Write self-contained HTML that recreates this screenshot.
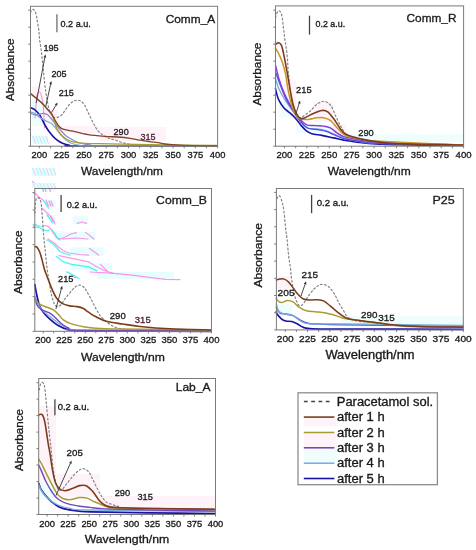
<!DOCTYPE html><html><head><meta charset="utf-8"><style>html,body{margin:0;padding:0;background:#fff;}svg{display:block;filter:blur(0.3px);}</style></head><body>
<svg width="476" height="550" viewBox="0 0 476 550" font-family='"Liberation Sans", sans-serif'>
<rect width="476" height="550" fill="#fff"/>
<rect x="32" y="100" width="16.0" height="26.0" fill="#effdfd"/>
<rect x="42" y="110" width="16.0" height="14.0" fill="#fff3fa"/>
<rect x="56" y="126" width="44.0" height="7.0" fill="#fff3fa"/>
<rect x="100" y="127" width="66.0" height="14.0" fill="#fff3fa"/>
<rect x="32" y="86" width="10.0" height="14.0" fill="#fff3fa"/>
<rect x="273.3" y="40.9" width="5.4" height="10.9" fill="#fff3fa"/>
<rect x="284.2" y="80.2" width="12.0" height="28.4" fill="#fff3fa"/>
<rect x="276" y="79.1" width="3.0" height="12.0" fill="#effdfd"/>
<rect x="313.7" y="102" width="19.6" height="19.7" fill="#fff3fa"/>
<rect x="296.2" y="123.9" width="34.9" height="8.7" fill="#effdfd"/>
<rect x="278.7" y="102" width="15.3" height="15.3" fill="#effdfd"/>
<rect x="330" y="124" width="16.0" height="14.0" fill="#fff3fa"/>
<rect x="346" y="134" width="117.0" height="8.0" fill="#effdfd"/>
<rect x="277" y="276" width="13.0" height="16.0" fill="#fff3fa"/>
<rect x="340" y="316" width="123.0" height="9.0" fill="#effdfd"/>
<rect x="277" y="304" width="15.0" height="12.0" fill="#effdfd"/>
<rect x="39.5" y="406" width="16.5" height="76.0" fill="#fff3fa"/>
<rect x="39.5" y="482" width="18.5" height="18.0" fill="#effdfd"/>
<rect x="56" y="474" width="44.0" height="23.0" fill="#fff3fa"/>
<rect x="100" y="496" width="115.0" height="12.0" fill="#fff3fa"/>
<rect x="304" y="418.5" width="33.0" height="7.5" fill="#fff3fa"/>
<rect x="304" y="434" width="33.0" height="14.0" fill="#fff3fa"/>
<rect x="304" y="449" width="33.0" height="13.0" fill="#effdfd"/>
<rect x="42.0" y="186.0" width="14.0" height="5.5" fill="#e6fefe" opacity="1"/>
<rect x="44.8" y="199.6" width="10.9" height="9.1" fill="#e6fefe" opacity="1"/>
<rect x="51.0" y="215.0" width="5.0" height="8.0" fill="#e6fefe" opacity="1"/>
<rect x="55.0" y="231.0" width="11.0" height="9.0" fill="#e6fefe" opacity="1"/>
<rect x="72.7" y="216.3" width="15.1" height="7.6" fill="#e6fefe" opacity="1"/>
<rect x="56.3" y="232.1" width="39.1" height="7.6" fill="#e6fefe" opacity="1"/>
<rect x="70.1" y="247.5" width="33.6" height="8.4" fill="#e6fefe" opacity="1"/>
<rect x="71.8" y="263.2" width="40.3" height="7.0" fill="#e6fefe" opacity="1"/>
<rect x="97.0" y="271.9" width="77.0" height="6.9" fill="#e6fefe" opacity="1"/>
<rect x="33.5" y="223.5" width="7.5" height="5.0" fill="#e6fefe" opacity="1"/>
<path d="M33.0,192.5 L36.0,194.0 L40.0,198.0 L42.5,199.5" fill="none" stroke="#ff7ae0" stroke-width="1.2" stroke-linejoin="round" stroke-linecap="round" opacity="0.8"/>
<path d="M43.9,186.0 L46.0,191.5" fill="none" stroke="#ff7ae0" stroke-width="1.2" stroke-linejoin="round" stroke-linecap="round" opacity="0.8"/>
<path d="M48.9,186.0 L50.5,191.5" fill="none" stroke="#ff7ae0" stroke-width="1.2" stroke-linejoin="round" stroke-linecap="round" opacity="0.8"/>
<path d="M46.0,200.0 L48.5,206.0" fill="none" stroke="#ff7ae0" stroke-width="1.2" stroke-linejoin="round" stroke-linecap="round" opacity="0.8"/>
<path d="M49.0,201.0 L51.0,206.5" fill="none" stroke="#ff7ae0" stroke-width="1.2" stroke-linejoin="round" stroke-linecap="round" opacity="0.8"/>
<path d="M51.0,201.0 L53.0,206.0" fill="none" stroke="#ff7ae0" stroke-width="1.2" stroke-linejoin="round" stroke-linecap="round" opacity="0.8"/>
<path d="M42.0,208.0 L46.0,212.0 L50.0,216.0 L53.5,222.0 L55.0,224.0" fill="none" stroke="#ff7ae0" stroke-width="1.2" stroke-linejoin="round" stroke-linecap="round" opacity="0.8"/>
<path d="M51.0,216.0 L54.5,222.0" fill="none" stroke="#ff7ae0" stroke-width="1.2" stroke-linejoin="round" stroke-linecap="round" opacity="0.8"/>
<path d="M33.5,227.0 L39.0,227.5" fill="none" stroke="#ff7ae0" stroke-width="1.2" stroke-linejoin="round" stroke-linecap="round" opacity="0.8"/>
<path d="M42.0,226.5 L46.0,225.5 L49.0,227.0 L51.5,230.0 L54.0,234.0 L56.0,237.0 L59.0,239.0 L63.0,238.0 L66.0,236.5 L71.0,234.0 L76.5,232.7" fill="none" stroke="#ff7ae0" stroke-width="1.2" stroke-linejoin="round" stroke-linecap="round" opacity="0.8"/>
<path d="M77.1,223.3 L82.2,222.0 L86.6,223.3" fill="none" stroke="#ff7ae0" stroke-width="1.2" stroke-linejoin="round" stroke-linecap="round" opacity="0.8"/>
<path d="M62.6,239.0 L75.2,238.0 L87.8,239.0" fill="none" stroke="#ff7ae0" stroke-width="1.2" stroke-linejoin="round" stroke-linecap="round" opacity="0.8"/>
<path d="M85.3,232.1 L94.1,239.0" fill="none" stroke="#ff7ae0" stroke-width="1.2" stroke-linejoin="round" stroke-linecap="round" opacity="0.8"/>
<path d="M48.0,239.0 L53.0,242.0 L58.0,246.5 L63.0,250.5 L69.0,253.0 L80.0,254.5 L88.5,255.2" fill="none" stroke="#ff7ae0" stroke-width="1.2" stroke-linejoin="round" stroke-linecap="round" opacity="0.8"/>
<path d="M89.5,248.4 L98.7,255.1" fill="none" stroke="#ff7ae0" stroke-width="1.2" stroke-linejoin="round" stroke-linecap="round" opacity="0.8"/>
<path d="M59.0,255.7 L72.0,258.4 L88.6,261.8 L95.3,266.0 L103.7,270.2 L113.0,273.4" fill="none" stroke="#ff7ae0" stroke-width="1.2" stroke-linejoin="round" stroke-linecap="round" opacity="0.8"/>
<path d="M100.4,264.3 L107.1,271.0" fill="none" stroke="#ff7ae0" stroke-width="1.2" stroke-linejoin="round" stroke-linecap="round" opacity="0.8"/>
<path d="M90.0,272.0 L111.0,273.1 L132.0,275.2 L153.0,277.9 L165.6,279.4 L180.0,279.6" fill="none" stroke="#ff7ae0" stroke-width="1.2" stroke-linejoin="round" stroke-linecap="round" opacity="0.8"/>
<path d="M71.8,276.1 L76.0,278.0" fill="none" stroke="#ff7ae0" stroke-width="1.2" stroke-linejoin="round" stroke-linecap="round" opacity="0.8"/>
<path d="M32.5,181.4 L36.0,184.5" fill="none" stroke="#ff7ae0" stroke-width="1.2" stroke-linejoin="round" stroke-linecap="round" opacity="0.8"/>
<path d="M42.0,186.0 L43.5,191.5" fill="none" stroke="#2ef0f0" stroke-width="1.3" stroke-linejoin="round" stroke-linecap="round" opacity="0.85"/>
<path d="M43.0,200.0 L46.0,204.0 L48.5,208.0" fill="none" stroke="#2ef0f0" stroke-width="1.3" stroke-linejoin="round" stroke-linecap="round" opacity="0.85"/>
<path d="M47.0,215.0 L50.0,219.0 L52.5,223.0" fill="none" stroke="#2ef0f0" stroke-width="1.3" stroke-linejoin="round" stroke-linecap="round" opacity="0.85"/>
<path d="M33.0,225.0 L36.0,225.0 L40.0,226.5" fill="none" stroke="#2ef0f0" stroke-width="1.3" stroke-linejoin="round" stroke-linecap="round" opacity="0.85"/>
<path d="M40.0,228.0 L44.0,230.0 L47.0,231.0 L49.0,230.0" fill="none" stroke="#2ef0f0" stroke-width="1.3" stroke-linejoin="round" stroke-linecap="round" opacity="0.85"/>
<path d="M52.0,230.0 L55.0,234.0 L57.5,238.0 L60.0,240.0" fill="none" stroke="#2ef0f0" stroke-width="1.3" stroke-linejoin="round" stroke-linecap="round" opacity="0.85"/>
<path d="M47.0,240.0 L52.0,243.0 L56.0,247.0 L60.0,251.5 L66.0,254.0 L70.0,255.2" fill="none" stroke="#2ef0f0" stroke-width="1.3" stroke-linejoin="round" stroke-linecap="round" opacity="0.85"/>
<path d="M56.5,256.6 L63.4,261.8 L71.8,264.3 L88.6,266.8 L96.9,270.9" fill="none" stroke="#2ef0f0" stroke-width="1.3" stroke-linejoin="round" stroke-linecap="round" opacity="0.85"/>
<path d="M66.8,271.9 L73.5,275.3 L79.0,278.5" fill="none" stroke="#2ef0f0" stroke-width="1.3" stroke-linejoin="round" stroke-linecap="round" opacity="0.85"/>
<rect x="32.0" y="135.7" width="16.3" height="8.2" fill="#e6fefe" opacity="1"/>
<path d="M33.0,136.2 L35.5,143.4" fill="none" stroke="#ff7ae0" stroke-width="0.9" stroke-linejoin="round" stroke-linecap="round" opacity="0.45"/>
<path d="M36.2,136.2 L38.7,143.4" fill="none" stroke="#2ef0f0" stroke-width="0.9" stroke-linejoin="round" stroke-linecap="round" opacity="0.45"/>
<path d="M39.5,136.2 L42.0,143.4" fill="none" stroke="#ff7ae0" stroke-width="0.9" stroke-linejoin="round" stroke-linecap="round" opacity="0.45"/>
<path d="M42.8,136.2 L45.3,143.4" fill="none" stroke="#2ef0f0" stroke-width="0.9" stroke-linejoin="round" stroke-linecap="round" opacity="0.45"/>
<path d="M46.0,136.2 L48.5,143.4" fill="none" stroke="#ff7ae0" stroke-width="0.9" stroke-linejoin="round" stroke-linecap="round" opacity="0.45"/>
<rect x="31.8" y="167.8" width="23.8" height="8.0" fill="#e6fefe" opacity="1"/>
<path d="M32.8,168.3 L35.3,175.3" fill="none" stroke="#ff7ae0" stroke-width="0.9" stroke-linejoin="round" stroke-linecap="round" opacity="0.45"/>
<path d="M36.2,168.3 L38.7,175.3" fill="none" stroke="#2ef0f0" stroke-width="0.9" stroke-linejoin="round" stroke-linecap="round" opacity="0.45"/>
<path d="M39.6,168.3 L42.1,175.3" fill="none" stroke="#ff7ae0" stroke-width="0.9" stroke-linejoin="round" stroke-linecap="round" opacity="0.45"/>
<path d="M43.0,168.3 L45.5,175.3" fill="none" stroke="#2ef0f0" stroke-width="0.9" stroke-linejoin="round" stroke-linecap="round" opacity="0.45"/>
<path d="M46.4,168.3 L48.9,175.3" fill="none" stroke="#ff7ae0" stroke-width="0.9" stroke-linejoin="round" stroke-linecap="round" opacity="0.45"/>
<path d="M49.8,168.3 L52.3,175.3" fill="none" stroke="#2ef0f0" stroke-width="0.9" stroke-linejoin="round" stroke-linecap="round" opacity="0.45"/>
<path d="M53.2,168.3 L55.7,175.3" fill="none" stroke="#ff7ae0" stroke-width="0.9" stroke-linejoin="round" stroke-linecap="round" opacity="0.45"/>
<rect x="31.8" y="183.0" width="23.8" height="5.0" fill="#e6fefe" opacity="1"/>
<path d="M32.8,183.5 L35.3,187.5" fill="none" stroke="#ff7ae0" stroke-width="0.9" stroke-linejoin="round" stroke-linecap="round" opacity="0.45"/>
<path d="M36.2,183.5 L38.7,187.5" fill="none" stroke="#2ef0f0" stroke-width="0.9" stroke-linejoin="round" stroke-linecap="round" opacity="0.45"/>
<path d="M39.6,183.5 L42.1,187.5" fill="none" stroke="#ff7ae0" stroke-width="0.9" stroke-linejoin="round" stroke-linecap="round" opacity="0.45"/>
<path d="M43.0,183.5 L45.5,187.5" fill="none" stroke="#2ef0f0" stroke-width="0.9" stroke-linejoin="round" stroke-linecap="round" opacity="0.45"/>
<path d="M46.4,183.5 L48.9,187.5" fill="none" stroke="#ff7ae0" stroke-width="0.9" stroke-linejoin="round" stroke-linecap="round" opacity="0.45"/>
<path d="M49.8,183.5 L52.3,187.5" fill="none" stroke="#2ef0f0" stroke-width="0.9" stroke-linejoin="round" stroke-linecap="round" opacity="0.45"/>
<path d="M53.2,183.5 L55.7,187.5" fill="none" stroke="#ff7ae0" stroke-width="0.9" stroke-linejoin="round" stroke-linecap="round" opacity="0.45"/>
<path d="M35.00,118.00 C35.10,117.12 35.33,116.20 35.60,112.70 C35.87,109.20 36.07,100.52 36.60,97.00 C37.13,93.48 38.03,91.93 38.80,91.60 C39.57,91.27 40.47,92.77 41.20,95.00 C41.93,97.23 42.73,101.17 43.20,105.00 C43.67,108.83 43.78,114.17 44.00,118.00 C44.22,121.83 44.42,126.33 44.50,128.00" fill="none" stroke="#f070c8" stroke-width="1.0" stroke-linejoin="round" stroke-linecap="round" opacity="0.8"/>
<path d="M30.50,12.60 C30.68,12.20 31.18,10.73 31.60,10.20 C32.02,9.67 32.55,9.40 33.00,9.40 C33.45,9.40 33.92,9.80 34.30,10.20 C34.68,10.60 34.92,10.77 35.30,11.80 C35.68,12.83 36.27,14.85 36.60,16.40 C36.93,17.95 36.93,18.80 37.30,21.10 C37.67,23.40 38.42,27.12 38.80,30.20 C39.18,33.28 39.20,36.30 39.60,39.60 C40.00,42.90 40.75,46.60 41.20,50.00 C41.65,53.40 41.92,56.50 42.30,60.00 C42.68,63.50 43.13,67.33 43.50,71.00 C43.87,74.67 44.12,78.50 44.50,82.00 C44.88,85.50 45.37,89.00 45.80,92.00 C46.23,95.00 46.57,97.17 47.10,100.00 C47.63,102.83 48.27,106.58 49.00,109.00 C49.73,111.42 50.67,113.12 51.50,114.50 C52.33,115.88 53.08,116.80 54.00,117.30 C54.92,117.80 55.73,117.88 57.00,117.50 C58.27,117.12 60.27,116.17 61.60,115.00 C62.93,113.83 63.77,112.17 65.00,110.50 C66.23,108.83 67.67,106.50 69.00,105.00 C70.33,103.50 71.70,102.30 73.00,101.50 C74.30,100.70 75.55,100.28 76.80,100.20 C78.05,100.12 79.22,100.20 80.50,101.00 C81.78,101.80 83.18,103.00 84.50,105.00 C85.82,107.00 87.15,110.42 88.40,113.00 C89.65,115.58 90.78,118.08 92.00,120.50 C93.22,122.92 94.53,125.62 95.70,127.50 C96.87,129.38 97.57,130.38 99.00,131.80 C100.43,133.22 102.63,134.92 104.30,136.00 C105.97,137.08 107.30,137.67 109.00,138.30 C110.70,138.93 112.33,139.10 114.50,139.80 C116.67,140.50 119.42,141.75 122.00,142.50 C124.58,143.25 127.00,143.80 130.00,144.30 C133.00,144.80 136.67,145.22 140.00,145.50 C143.33,145.78 148.33,145.92 150.00,146.00" fill="none" stroke="#858585" stroke-width="1.2" stroke-linejoin="round" stroke-linecap="round" stroke-dasharray="1.7,2.4" opacity="1"/>
<path d="M30.50,107.70 C31.18,108.02 33.20,108.55 34.60,109.60 C36.00,110.65 37.63,112.35 38.90,114.00 C40.17,115.65 41.10,117.50 42.20,119.50 C43.30,121.50 44.23,123.82 45.50,126.00 C46.77,128.18 48.17,130.48 49.80,132.60 C51.43,134.72 53.28,136.95 55.30,138.70 C57.32,140.45 59.53,142.00 61.90,143.10 C64.27,144.20 66.82,144.82 69.50,145.30 C72.18,145.78 53.42,145.88 78.00,146.00 C102.58,146.12 193.83,146.00 217.00,146.00" fill="none" stroke="#1c10a8" stroke-width="1.6" stroke-linejoin="round" stroke-linecap="round" opacity="1"/>
<path d="M30.50,112.00 C31.08,112.17 32.60,112.17 34.00,113.00 C35.40,113.83 36.98,115.73 38.90,117.00 C40.82,118.27 43.32,119.43 45.50,120.60 C47.68,121.77 50.18,122.55 52.00,124.00 C53.82,125.45 54.90,127.47 56.40,129.30 C57.90,131.13 59.40,133.22 61.00,135.00 C62.60,136.78 64.17,138.58 66.00,140.00 C67.83,141.42 69.67,142.62 72.00,143.50 C74.33,144.38 76.17,144.88 80.00,145.30 C83.83,145.72 72.17,145.88 95.00,146.00 C117.83,146.12 196.67,146.00 217.00,146.00" fill="none" stroke="#78b0e2" stroke-width="1.3" stroke-linejoin="round" stroke-linecap="round" opacity="1"/>
<path d="M30.50,113.10 C31.18,113.38 33.27,114.55 34.60,114.80 C35.93,115.05 37.35,114.80 38.50,114.60 C39.65,114.40 40.52,113.78 41.50,113.60 C42.48,113.42 43.37,113.30 44.40,113.50 C45.43,113.70 46.43,113.80 47.70,114.80 C48.97,115.80 50.55,117.80 52.00,119.50 C53.45,121.20 54.93,123.17 56.40,125.00 C57.87,126.83 59.17,128.67 60.80,130.50 C62.43,132.33 64.17,134.42 66.20,136.00 C68.23,137.58 70.70,138.83 73.00,140.00 C75.30,141.17 77.17,142.17 80.00,143.00 C82.83,143.83 85.83,144.53 90.00,145.00 C94.17,145.47 83.83,145.63 105.00,145.80 C126.17,145.97 198.33,145.97 217.00,146.00" fill="none" stroke="#8c88c8" stroke-width="1.3" stroke-linejoin="round" stroke-linecap="round" opacity="1"/>
<path d="M30.50,93.80 C31.53,94.62 34.75,97.07 36.70,98.70 C38.65,100.33 40.47,101.88 42.20,103.60 C43.93,105.32 45.55,107.18 47.10,109.00 C48.65,110.82 50.35,112.75 51.50,114.50 C52.65,116.25 53.18,117.33 54.00,119.50 C54.82,121.67 55.27,125.00 56.40,127.50 C57.53,130.00 59.17,132.58 60.80,134.50 C62.43,136.42 64.17,137.78 66.20,139.00 C68.23,140.22 69.87,141.08 73.00,141.80 C76.13,142.52 78.83,142.97 85.00,143.30 C91.17,143.63 99.17,143.58 110.00,143.80 C120.83,144.02 132.17,144.32 150.00,144.60 C167.83,144.88 205.83,145.35 217.00,145.50" fill="none" stroke="#a99c30" stroke-width="1.3" stroke-linejoin="round" stroke-linecap="round" opacity="1"/>
<path d="M30.50,93.30 C31.53,94.15 34.75,96.73 36.70,98.40 C38.65,100.07 40.47,101.57 42.20,103.30 C43.93,105.03 45.55,107.07 47.10,108.80 C48.65,110.53 50.13,111.75 51.50,113.70 C52.87,115.65 54.12,118.48 55.30,120.50 C56.48,122.52 57.32,124.35 58.60,125.80 C59.88,127.25 60.60,128.30 63.00,129.20 C65.40,130.10 68.83,130.30 73.00,131.20 C77.17,132.10 82.67,133.73 88.00,134.60 C93.33,135.47 100.07,136.00 105.00,136.40 C109.93,136.80 113.40,136.68 117.60,137.00 C121.80,137.32 126.42,137.77 130.20,138.30 C133.98,138.83 137.15,139.63 140.30,140.20 C143.45,140.77 146.15,141.28 149.10,141.70 C152.05,142.12 155.35,142.32 158.00,142.70 C160.65,143.08 161.23,143.58 165.00,144.00 C168.77,144.42 174.77,144.90 180.60,145.20 C186.43,145.50 193.93,145.67 200.00,145.80 C206.07,145.93 214.17,145.97 217.00,146.00" fill="none" stroke="#84442a" stroke-width="1.3" stroke-linejoin="round" stroke-linecap="round" opacity="1"/>
<line x1="36.2" y1="103" x2="44.81" y2="57.44" stroke="#333" stroke-width="0.9"/>
<polygon points="45.40,54.30 46.18,57.70 43.43,57.18" fill="#333"/>
<line x1="45.8" y1="106.2" x2="50.62" y2="84.13" stroke="#333" stroke-width="0.9"/>
<polygon points="51.30,81.00 51.99,84.42 49.25,83.83" fill="#333"/>
<line x1="51.5" y1="112.6" x2="55.96" y2="105.15" stroke="#333" stroke-width="0.9"/>
<polygon points="57.60,102.40 57.16,105.86 54.76,104.43" fill="#333"/>
<text x="43.4" y="51.2" font-size="9.4" text-anchor="start" fill="#1a1a1a" stroke="#1a1a1a" stroke-width="0.32" textLength="15.3" lengthAdjust="spacingAndGlyphs">195</text>
<text x="51.5" y="76.7" font-size="9.4" text-anchor="start" fill="#1a1a1a" stroke="#1a1a1a" stroke-width="0.32" textLength="15.1" lengthAdjust="spacingAndGlyphs">205</text>
<text x="58.7" y="96.0" font-size="9.4" text-anchor="start" fill="#1a1a1a" stroke="#1a1a1a" stroke-width="0.32" textLength="15.2" lengthAdjust="spacingAndGlyphs">215</text>
<text x="113.6" y="134.5" font-size="9.4" text-anchor="start" fill="#1a1a1a" stroke="#1a1a1a" stroke-width="0.32" textLength="15.1" lengthAdjust="spacingAndGlyphs">290</text>
<text x="140.4" y="139.5" font-size="9.4" text-anchor="start" fill="#4a2535" stroke="#4a2535" stroke-width="0.32" textLength="15.0" lengthAdjust="spacingAndGlyphs">315</text>
<path d="M275.60,17.50 C275.75,16.92 276.10,15.05 276.50,14.00 C276.90,12.95 277.50,11.72 278.00,11.20 C278.50,10.68 278.98,10.58 279.50,10.90 C280.02,11.22 280.65,12.00 281.10,13.10 C281.55,14.20 281.92,15.98 282.20,17.50 C282.48,19.02 282.62,20.63 282.80,22.20 C282.98,23.77 283.10,25.32 283.30,26.90 C283.50,28.48 283.82,30.18 284.00,31.70 C284.18,33.22 284.22,34.43 284.40,36.00 C284.58,37.57 284.82,39.27 285.10,41.10 C285.38,42.93 285.72,44.12 286.10,47.00 C286.48,49.88 287.05,54.40 287.40,58.40 C287.75,62.40 287.77,66.07 288.20,71.00 C288.63,75.93 289.37,82.67 290.00,88.00 C290.63,93.33 291.25,98.83 292.00,103.00 C292.75,107.17 293.58,110.58 294.50,113.00 C295.42,115.42 296.42,116.75 297.50,117.50 C298.58,118.25 299.75,117.92 301.00,117.50 C302.25,117.08 303.48,116.05 305.00,115.00 C306.52,113.95 308.13,112.98 310.10,111.20 C312.07,109.42 314.42,105.95 316.80,104.30 C319.18,102.65 322.02,101.02 324.40,101.30 C326.78,101.58 329.15,103.40 331.10,106.00 C333.05,108.60 334.42,113.40 336.10,116.90 C337.78,120.40 339.52,124.07 341.20,127.00 C342.88,129.93 344.38,132.60 346.20,134.50 C348.02,136.40 349.80,137.32 352.10,138.40 C354.40,139.48 356.18,140.23 360.00,141.00 C363.82,141.77 368.33,142.42 375.00,143.00 C381.67,143.58 385.33,144.08 400.00,144.50 C414.67,144.92 452.50,145.33 463.00,145.50" fill="none" stroke="#858585" stroke-width="1.2" stroke-linejoin="round" stroke-linecap="round" stroke-dasharray="1.7,2.4" opacity="1"/>
<path d="M275.50,88.60 C275.67,89.35 275.90,91.08 276.50,93.10 C277.10,95.12 277.82,98.17 279.10,100.70 C280.38,103.23 282.30,106.18 284.20,108.30 C286.10,110.42 288.60,111.70 290.50,113.40 C292.40,115.10 293.90,116.58 295.60,118.50 C297.30,120.42 299.00,122.93 300.70,124.90 C302.40,126.87 303.95,128.83 305.80,130.30 C307.65,131.77 309.13,132.85 311.80,133.70 C314.47,134.55 318.17,134.70 321.80,135.40 C325.43,136.10 329.95,137.12 333.60,137.90 C337.25,138.68 339.78,139.40 343.70,140.10 C347.62,140.80 351.05,141.43 357.10,142.10 C363.15,142.77 372.85,143.65 380.00,144.10 C387.15,144.55 386.17,144.58 400.00,144.80 C413.83,145.02 452.50,145.30 463.00,145.40" fill="none" stroke="#1c10a8" stroke-width="1.6" stroke-linejoin="round" stroke-linecap="round" opacity="1"/>
<path d="M275.50,79.10 C276.10,80.80 277.43,85.70 279.10,89.30 C280.77,92.90 283.38,97.32 285.50,100.70 C287.62,104.08 289.90,106.83 291.80,109.60 C293.70,112.37 295.45,115.23 296.90,117.30 C298.35,119.37 298.58,120.17 300.50,122.00 C302.42,123.83 305.68,127.13 308.40,128.30 C311.12,129.47 314.00,128.67 316.80,129.00 C319.60,129.33 322.40,129.47 325.20,130.30 C328.00,131.13 330.52,132.73 333.60,134.00 C336.68,135.27 339.30,136.65 343.70,137.90 C348.10,139.15 353.95,140.58 360.00,141.50 C366.05,142.42 362.83,142.82 380.00,143.40 C397.17,143.98 449.17,144.73 463.00,145.00" fill="none" stroke="#78b0e2" stroke-width="1.4" stroke-linejoin="round" stroke-linecap="round" opacity="1"/>
<path d="M275.50,72.00 C276.10,73.67 277.65,78.17 279.10,82.00 C280.55,85.83 282.50,91.17 284.20,95.00 C285.90,98.83 287.60,102.08 289.30,105.00 C291.00,107.92 292.62,109.92 294.40,112.50 C296.18,115.08 297.95,117.95 300.00,120.50 C302.05,123.05 303.90,126.30 306.70,127.80 C309.50,129.30 313.43,128.85 316.80,129.50 C320.17,130.15 324.10,130.87 326.90,131.70 C329.70,132.53 330.80,133.33 333.60,134.50 C336.40,135.67 339.30,137.53 343.70,138.70 C348.10,139.87 353.95,140.68 360.00,141.50 C366.05,142.32 362.83,143.02 380.00,143.60 C397.17,144.18 449.17,144.77 463.00,145.00" fill="none" stroke="#5050e0" stroke-width="1.3" stroke-linejoin="round" stroke-linecap="round" opacity="1"/>
<path d="M275.50,65.10 C276.10,67.43 277.65,74.43 279.10,79.10 C280.55,83.77 282.50,89.07 284.20,93.10 C285.90,97.13 287.60,100.33 289.30,103.30 C291.00,106.27 292.72,108.37 294.40,110.90 C296.08,113.43 297.35,116.18 299.40,118.50 C301.45,120.82 304.08,123.62 306.70,124.80 C309.32,125.98 312.30,125.38 315.10,125.60 C317.90,125.82 320.97,125.73 323.50,126.10 C326.03,126.47 328.05,126.67 330.30,127.80 C332.55,128.93 334.77,131.42 337.00,132.90 C339.23,134.38 340.90,135.73 343.70,136.70 C346.50,137.67 347.75,137.75 353.80,138.70 C359.85,139.65 361.80,141.35 380.00,142.40 C398.20,143.45 449.17,144.57 463.00,145.00" fill="none" stroke="#8a3ad8" stroke-width="1.4" stroke-linejoin="round" stroke-linecap="round" opacity="1"/>
<path d="M275.50,48.30 C276.10,49.35 277.97,52.27 279.10,54.60 C280.23,56.93 281.23,59.12 282.30,62.30 C283.37,65.48 284.55,69.20 285.50,73.70 C286.45,78.20 286.95,83.95 288.00,89.30 C289.05,94.65 290.53,101.57 291.80,105.80 C293.07,110.03 294.23,112.52 295.60,114.70 C296.97,116.88 297.87,118.12 300.00,118.90 C302.13,119.68 305.60,119.60 308.40,119.40 C311.20,119.20 314.28,117.98 316.80,117.70 C319.32,117.42 321.25,117.27 323.50,117.70 C325.75,118.13 328.05,118.62 330.30,120.30 C332.55,121.98 334.77,125.43 337.00,127.80 C339.23,130.17 341.47,132.95 343.70,134.50 C345.93,136.05 346.85,136.22 350.40,137.10 C353.95,137.98 360.07,139.10 365.00,139.80 C369.93,140.50 363.67,140.43 380.00,141.30 C396.33,142.17 449.17,144.38 463.00,145.00" fill="none" stroke="#c8962a" stroke-width="1.5" stroke-linejoin="round" stroke-linecap="round" opacity="1"/>
<path d="M275.50,44.40 C275.78,44.20 276.60,43.45 277.20,43.20 C277.80,42.95 278.37,42.48 279.10,42.90 C279.83,43.32 280.87,43.97 281.60,45.70 C282.33,47.43 282.85,50.33 283.50,53.30 C284.15,56.27 284.85,60.10 285.50,63.50 C286.15,66.90 286.90,70.95 287.40,73.70 C287.90,76.45 287.98,76.98 288.50,80.00 C289.02,83.02 289.73,87.72 290.50,91.80 C291.27,95.88 292.13,100.90 293.10,104.50 C294.07,108.10 295.10,111.08 296.30,113.40 C297.50,115.72 298.85,117.68 300.30,118.40 C301.75,119.12 302.82,118.52 305.00,117.70 C307.18,116.88 310.60,114.70 313.40,113.50 C316.20,112.30 319.42,110.78 321.80,110.50 C324.18,110.22 325.73,110.45 327.70,111.80 C329.67,113.15 331.50,115.78 333.60,118.60 C335.70,121.42 338.33,126.13 340.30,128.70 C342.27,131.27 343.15,132.60 345.40,134.00 C347.65,135.40 350.72,136.17 353.80,137.10 C356.88,138.03 359.53,138.77 363.90,139.60 C368.27,140.43 373.98,141.40 380.00,142.10 C386.02,142.80 386.17,143.32 400.00,143.80 C413.83,144.28 452.50,144.80 463.00,145.00" fill="none" stroke="#7e3c1a" stroke-width="1.6" stroke-linejoin="round" stroke-linecap="round" opacity="1"/>
<line x1="295.6" y1="114.7" x2="299.13" y2="103.55" stroke="#333" stroke-width="0.9"/>
<polygon points="300.10,100.50 300.47,103.97 297.80,103.13" fill="#333"/>
<text x="296.0" y="93.3" font-size="9.6" text-anchor="start" fill="#1a1a1a" stroke="#1a1a1a" stroke-width="0.32" textLength="15.6" lengthAdjust="spacingAndGlyphs">215</text>
<text x="358.3" y="135.7" font-size="9.6" text-anchor="start" fill="#1a1a1a" stroke="#1a1a1a" stroke-width="0.32" textLength="15.5" lengthAdjust="spacingAndGlyphs">290</text>
<path d="M35.00,213.00 C35.05,211.50 35.08,206.33 35.30,204.00 C35.52,201.67 35.85,200.07 36.30,199.00 C36.75,197.93 37.38,197.52 38.00,197.60 C38.62,197.68 39.47,198.43 40.00,199.50 C40.53,200.57 40.83,201.42 41.20,204.00 C41.57,206.58 41.80,209.83 42.20,215.00 C42.60,220.17 43.08,228.92 43.60,235.00 C44.12,241.08 44.73,246.00 45.30,251.50 C45.87,257.00 46.32,262.75 47.00,268.00 C47.68,273.25 48.65,278.50 49.40,283.00 C50.15,287.50 50.67,291.50 51.50,295.00 C52.33,298.50 53.48,302.12 54.40,304.00 C55.32,305.88 55.95,306.13 57.00,306.30 C58.05,306.47 59.23,306.43 60.70,305.00 C62.17,303.57 63.90,300.17 65.80,297.70 C67.70,295.23 70.40,292.07 72.10,290.20 C73.80,288.33 74.73,287.35 76.00,286.50 C77.27,285.65 78.53,285.10 79.70,285.10 C80.87,285.10 81.95,285.65 83.00,286.50 C84.05,287.35 84.67,288.12 86.00,290.20 C87.33,292.28 89.43,296.10 91.00,299.00 C92.57,301.90 93.90,304.85 95.40,307.60 C96.90,310.35 98.40,313.35 100.00,315.50 C101.60,317.65 103.05,318.83 105.00,320.50 C106.95,322.17 109.20,324.17 111.70,325.50 C114.20,326.83 115.28,327.70 120.00,328.50 C124.72,329.30 124.83,329.88 140.00,330.30 C155.17,330.72 199.17,330.88 211.00,331.00" fill="none" stroke="#858585" stroke-width="1.2" stroke-linejoin="round" stroke-linecap="round" stroke-dasharray="1.7,2.4" opacity="1"/>
<path d="M34.80,284.50 C35.13,286.28 35.95,291.52 36.80,295.20 C37.65,298.88 38.65,303.55 39.90,306.60 C41.15,309.65 42.50,311.30 44.30,313.50 C46.10,315.70 48.38,317.80 50.70,319.80 C53.02,321.80 55.48,323.92 58.20,325.50 C60.92,327.08 63.85,328.42 67.00,329.30 C70.15,330.18 71.60,330.48 77.10,330.80 C82.60,331.12 77.68,331.12 100.00,331.20 C122.32,331.28 192.50,331.28 211.00,331.30" fill="none" stroke="#1c10a8" stroke-width="1.7" stroke-linejoin="round" stroke-linecap="round" opacity="1"/>
<path d="M34.80,296.00 C35.33,297.33 36.62,301.50 38.00,304.00 C39.38,306.50 41.20,309.00 43.10,311.00 C45.00,313.00 47.42,314.42 49.40,316.00 C51.38,317.58 52.90,318.92 55.00,320.50 C57.10,322.08 59.50,324.12 62.00,325.50 C64.50,326.88 66.17,327.97 70.00,328.80 C73.83,329.63 61.50,330.13 85.00,330.50 C108.50,330.87 190.00,330.92 211.00,331.00" fill="none" stroke="#78b0e2" stroke-width="1.3" stroke-linejoin="round" stroke-linecap="round" opacity="1"/>
<path d="M34.80,299.00 C35.33,300.27 36.62,304.70 38.00,306.60 C39.38,308.50 41.20,309.35 43.10,310.40 C45.00,311.45 47.52,311.85 49.40,312.90 C51.28,313.95 52.52,315.02 54.40,316.70 C56.28,318.38 58.38,321.12 60.70,323.00 C63.02,324.88 65.08,326.78 68.30,328.00 C71.52,329.22 56.22,329.83 80.00,330.30 C103.78,330.77 189.17,330.72 211.00,330.80" fill="none" stroke="#7248c0" stroke-width="1.4" stroke-linejoin="round" stroke-linecap="round" opacity="1"/>
<path d="M34.80,300.30 C35.77,301.03 38.58,303.55 40.60,304.70 C42.62,305.85 44.80,306.37 46.90,307.20 C49.00,308.03 51.32,308.55 53.20,309.70 C55.08,310.85 56.52,312.42 58.20,314.10 C59.88,315.78 61.20,318.22 63.30,319.80 C65.40,321.38 67.45,322.45 70.80,323.60 C74.15,324.75 79.70,325.97 83.40,326.70 C87.10,327.43 86.90,327.62 93.00,328.00 C99.10,328.38 100.33,328.67 120.00,329.00 C139.67,329.33 195.83,329.83 211.00,330.00" fill="none" stroke="#a99c30" stroke-width="1.5" stroke-linejoin="round" stroke-linecap="round" opacity="1"/>
<path d="M34.80,246.80 C35.10,246.82 35.82,246.12 36.60,246.90 C37.38,247.68 38.60,249.38 39.50,251.50 C40.40,253.62 41.17,256.60 42.00,259.60 C42.83,262.60 43.73,266.88 44.50,269.50 C45.27,272.12 45.88,273.38 46.60,275.30 C47.32,277.22 47.92,278.73 48.80,281.00 C49.68,283.27 50.65,286.12 51.90,288.90 C53.15,291.68 54.62,295.28 56.30,297.70 C57.98,300.12 59.78,302.03 62.00,303.40 C64.22,304.77 67.08,305.37 69.60,305.90 C72.12,306.43 74.80,306.17 77.10,306.60 C79.40,307.03 81.50,307.57 83.40,308.50 C85.30,309.43 86.50,310.87 88.50,312.20 C90.50,313.53 92.43,315.00 95.40,316.50 C98.37,318.00 101.77,319.95 106.30,321.20 C110.83,322.45 116.98,323.12 122.60,324.00 C128.22,324.88 132.10,325.70 140.00,326.50 C147.90,327.30 158.17,328.22 170.00,328.80 C181.83,329.38 204.17,329.80 211.00,330.00" fill="none" stroke="#7e3c1a" stroke-width="1.6" stroke-linejoin="round" stroke-linecap="round" opacity="1"/>
<line x1="55.9" y1="309" x2="61.36" y2="288.89" stroke="#333" stroke-width="0.9"/>
<polygon points="62.20,285.80 62.71,289.26 60.01,288.52" fill="#333"/>
<text x="58.1" y="282.3" font-size="9.6" text-anchor="start" fill="#1a1a1a" stroke="#1a1a1a" stroke-width="0.32" textLength="15.4" lengthAdjust="spacingAndGlyphs">215</text>
<text x="109.8" y="319.2" font-size="9.6" text-anchor="start" fill="#1a1a1a" stroke="#1a1a1a" stroke-width="0.32" textLength="15.9" lengthAdjust="spacingAndGlyphs">290</text>
<text x="134.8" y="322.8" font-size="9.6" text-anchor="start" fill="#4e2535" stroke="#4e2535" stroke-width="0.32" textLength="15.9" lengthAdjust="spacingAndGlyphs">315</text>
<path d="M277.00,198.50 C277.18,198.18 277.65,197.05 278.10,196.60 C278.55,196.15 279.02,194.83 279.70,195.80 C280.38,196.77 281.52,199.95 282.20,202.40 C282.88,204.85 283.25,206.42 283.80,210.50 C284.35,214.58 284.95,221.98 285.50,226.90 C286.05,231.82 286.57,235.08 287.10,240.00 C287.63,244.92 288.15,251.77 288.70,256.40 C289.25,261.03 289.92,264.02 290.40,267.80 C290.88,271.58 290.90,274.52 291.60,279.10 C292.30,283.68 293.37,290.90 294.60,295.30 C295.83,299.70 297.53,304.13 299.00,305.50 C300.47,306.87 301.93,304.95 303.40,303.50 C304.87,302.05 306.08,299.15 307.80,296.80 C309.52,294.45 311.98,291.25 313.70,289.40 C315.42,287.55 316.63,286.55 318.10,285.70 C319.57,284.85 320.78,284.17 322.50,284.30 C324.22,284.43 326.43,284.92 328.40,286.50 C330.37,288.08 332.58,291.12 334.30,293.80 C336.02,296.48 337.08,299.65 338.70,302.60 C340.32,305.55 342.52,309.08 344.00,311.50 C345.48,313.92 345.77,315.60 347.60,317.10 C349.43,318.60 351.27,319.60 355.00,320.50 C358.73,321.40 362.50,321.67 370.00,322.50 C377.50,323.33 384.50,324.67 400.00,325.50 C415.50,326.33 452.50,327.17 463.00,327.50" fill="none" stroke="#858585" stroke-width="1.2" stroke-linejoin="round" stroke-linecap="round" stroke-dasharray="1.7,2.4" opacity="1"/>
<path d="M276.40,311.50 C276.48,311.87 276.07,312.48 276.90,313.70 C277.73,314.92 279.92,317.58 281.40,318.80 C282.88,320.02 284.10,320.55 285.80,321.00 C287.50,321.45 289.65,321.00 291.60,321.50 C293.55,322.00 295.53,323.02 297.50,324.00 C299.47,324.98 300.95,326.60 303.40,327.40 C305.85,328.20 305.43,328.52 312.20,328.80 C318.97,329.08 318.87,329.02 344.00,329.10 C369.13,329.18 443.17,329.27 463.00,329.30" fill="none" stroke="#1c10a8" stroke-width="1.7" stroke-linejoin="round" stroke-linecap="round" opacity="1"/>
<path d="M276.40,307.10 C276.98,308.07 278.33,311.73 279.90,312.90 C281.47,314.07 283.60,313.65 285.80,314.10 C288.00,314.55 290.65,314.57 293.10,315.60 C295.55,316.63 298.05,319.03 300.50,320.30 C302.95,321.57 304.87,322.58 307.80,323.20 C310.73,323.82 312.07,323.75 318.10,324.00 C324.13,324.25 330.35,324.45 344.00,324.70 C357.65,324.95 380.17,325.20 400.00,325.50 C419.83,325.80 452.50,326.33 463.00,326.50" fill="none" stroke="#5050e0" stroke-width="1.5" stroke-linejoin="round" stroke-linecap="round" opacity="1"/>
<path d="M276.40,304.10 C276.73,305.20 277.33,309.10 278.40,310.70 C279.47,312.30 280.83,313.08 282.80,313.70 C284.77,314.32 288.23,313.92 290.20,314.40 C292.17,314.88 292.65,315.37 294.60,316.60 C296.55,317.83 299.20,320.57 301.90,321.80 C304.60,323.03 303.78,323.63 310.80,324.00 C317.82,324.37 318.63,323.75 344.00,324.00 C369.37,324.25 443.17,325.25 463.00,325.50" fill="none" stroke="#78b0e2" stroke-width="1.3" stroke-linejoin="round" stroke-linecap="round" opacity="1"/>
<path d="M276.40,297.50 C276.48,297.87 276.07,298.85 276.90,299.70 C277.73,300.55 279.68,302.48 281.40,302.60 C283.12,302.72 285.25,300.52 287.20,300.40 C289.15,300.28 291.13,300.78 293.10,301.90 C295.07,303.02 296.78,305.63 299.00,307.10 C301.22,308.57 303.70,309.92 306.40,310.70 C309.10,311.48 312.52,311.50 315.20,311.80 C317.88,312.10 320.05,312.12 322.50,312.50 C324.95,312.88 327.20,313.42 329.90,314.10 C332.60,314.78 336.23,315.87 338.70,316.60 C341.17,317.33 341.25,317.83 344.70,318.50 C348.15,319.17 354.02,319.87 359.40,320.60 C364.78,321.33 371.12,322.12 377.00,322.90 C382.88,323.68 387.83,324.65 394.70,325.30 C401.57,325.95 406.82,326.48 418.20,326.80 C429.58,327.12 455.53,327.13 463.00,327.20" fill="none" stroke="#a99c30" stroke-width="1.5" stroke-linejoin="round" stroke-linecap="round" opacity="1"/>
<path d="M276.40,279.90 C276.98,279.77 278.58,279.23 279.90,279.10 C281.22,278.97 282.83,278.60 284.30,279.10 C285.77,279.60 287.23,280.63 288.70,282.10 C290.17,283.57 291.63,285.95 293.10,287.90 C294.57,289.85 295.78,291.95 297.50,293.80 C299.22,295.65 301.18,297.97 303.40,299.00 C305.62,300.03 308.35,299.88 310.80,300.00 C313.25,300.12 315.90,299.50 318.10,299.70 C320.30,299.90 322.03,300.22 324.00,301.20 C325.97,302.18 327.93,304.02 329.90,305.60 C331.87,307.18 334.12,309.30 335.80,310.70 C337.48,312.10 338.03,312.70 340.00,314.00 C341.97,315.30 344.37,317.43 347.60,318.50 C350.83,319.57 354.50,319.70 359.40,320.40 C364.30,321.10 371.12,321.92 377.00,322.70 C382.88,323.48 387.83,324.45 394.70,325.10 C401.57,325.75 406.82,326.25 418.20,326.60 C429.58,326.95 455.53,327.10 463.00,327.20" fill="none" stroke="#7e3c1a" stroke-width="1.5" stroke-linejoin="round" stroke-linecap="round" opacity="1"/>
<line x1="301.0" y1="296.0" x2="305.05" y2="284.32" stroke="#333" stroke-width="0.9"/>
<polygon points="306.10,281.30 306.37,284.78 303.73,283.86" fill="#333"/>
<text x="301.4" y="277.9" font-size="9.8" text-anchor="start" fill="#1a1a1a" stroke="#1a1a1a" stroke-width="0.32" textLength="16.7" lengthAdjust="spacingAndGlyphs">215</text>
<text x="277.6" y="295.7" font-size="9.8" text-anchor="start" fill="#1a1a1a" stroke="#1a1a1a" stroke-width="0.32" textLength="17.0" lengthAdjust="spacingAndGlyphs">205</text>
<text x="361.1" y="318.3" font-size="9.8" text-anchor="start" fill="#1a1a1a" stroke="#1a1a1a" stroke-width="0.32" textLength="16.4" lengthAdjust="spacingAndGlyphs">290</text>
<text x="378.3" y="320.8" font-size="9.8" text-anchor="start" fill="#1a1a1a" stroke="#1a1a1a" stroke-width="0.32" textLength="16.5" lengthAdjust="spacingAndGlyphs">315</text>
<path d="M39.20,389.80 C39.43,388.83 40.05,385.22 40.60,384.00 C41.15,382.78 41.88,382.25 42.50,382.50 C43.12,382.75 43.82,383.67 44.30,385.50 C44.78,387.33 45.03,390.23 45.40,393.50 C45.77,396.77 46.08,400.73 46.50,405.10 C46.92,409.47 47.42,414.85 47.90,419.70 C48.38,424.55 48.92,429.83 49.40,434.20 C49.88,438.57 50.43,442.50 50.80,445.90 C51.17,449.30 51.20,450.68 51.60,454.60 C52.00,458.52 52.57,464.97 53.20,469.40 C53.83,473.83 54.55,477.85 55.40,481.20 C56.25,484.55 57.20,488.12 58.30,489.50 C59.40,490.88 60.65,490.40 62.00,489.50 C63.35,488.60 64.68,486.22 66.40,484.10 C68.12,481.98 70.33,479.00 72.30,476.80 C74.27,474.60 76.37,472.25 78.20,470.90 C80.03,469.55 81.58,468.58 83.30,468.70 C85.02,468.82 86.90,469.77 88.50,471.60 C90.10,473.43 91.40,476.80 92.90,479.70 C94.40,482.60 96.10,486.32 97.50,489.00 C98.90,491.68 99.83,493.62 101.30,495.80 C102.77,497.98 104.40,500.63 106.30,502.10 C108.20,503.57 110.80,503.92 112.70,504.60 C114.60,505.28 114.82,505.63 117.70,506.20 C120.58,506.77 113.78,507.53 130.00,508.00 C146.22,508.47 200.83,508.83 215.00,509.00" fill="none" stroke="#858585" stroke-width="1.2" stroke-linejoin="round" stroke-linecap="round" stroke-dasharray="1.7,2.4" opacity="1"/>
<path d="M38.70,483.40 C39.15,484.50 40.22,487.92 41.40,490.00 C42.58,492.08 44.08,493.93 45.80,495.90 C47.52,497.87 49.48,499.97 51.70,501.80 C53.92,503.63 56.15,505.55 59.10,506.90 C62.05,508.25 65.73,509.17 69.40,509.90 C73.07,510.63 74.83,510.93 81.10,511.30 C87.37,511.67 95.52,511.85 107.00,512.10 C118.48,512.35 132.00,512.57 150.00,512.80 C168.00,513.03 204.17,513.38 215.00,513.50" fill="none" stroke="#1c10a8" stroke-width="1.7" stroke-linejoin="round" stroke-linecap="round" opacity="1"/>
<path d="M38.70,484.80 C39.40,486.15 40.98,490.32 42.90,492.90 C44.82,495.48 47.68,498.28 50.20,500.30 C52.72,502.32 54.70,503.67 58.00,505.00 C61.30,506.33 64.67,507.47 70.00,508.30 C75.33,509.13 65.83,509.47 90.00,510.00 C114.17,510.53 194.17,511.25 215.00,511.50" fill="none" stroke="#78b0e2" stroke-width="1.3" stroke-linejoin="round" stroke-linecap="round" opacity="1"/>
<path d="M38.70,465.00 C39.15,465.98 40.22,468.20 41.40,470.90 C42.58,473.60 44.08,477.77 45.80,481.20 C47.52,484.63 49.73,488.57 51.70,491.50 C53.67,494.43 55.15,496.82 57.60,498.80 C60.05,500.78 62.97,502.20 66.40,503.40 C69.83,504.60 74.28,505.33 78.20,506.00 C82.12,506.67 86.27,506.98 89.90,507.40 C93.53,507.82 96.65,508.23 100.00,508.50 C103.35,508.77 101.67,508.75 110.00,509.00 C118.33,509.25 132.50,509.67 150.00,510.00 C167.50,510.33 204.17,510.83 215.00,511.00" fill="none" stroke="#7248c0" stroke-width="1.4" stroke-linejoin="round" stroke-linecap="round" opacity="1"/>
<path d="M38.70,459.10 C39.15,459.83 40.22,461.28 41.40,463.50 C42.58,465.72 44.08,468.97 45.80,472.40 C47.52,475.83 49.73,480.43 51.70,484.10 C53.67,487.77 55.63,491.95 57.60,494.40 C59.57,496.85 61.30,497.93 63.50,498.80 C65.70,499.67 68.12,499.80 70.80,499.60 C73.48,499.40 76.90,497.85 79.60,497.60 C82.30,497.35 84.53,497.40 87.00,498.10 C89.47,498.80 92.02,500.72 94.40,501.80 C96.78,502.88 99.10,503.78 101.30,504.60 C103.50,505.42 104.48,506.13 107.60,506.70 C110.72,507.27 102.10,507.53 120.00,508.00 C137.90,508.47 199.17,509.25 215.00,509.50" fill="none" stroke="#a99c30" stroke-width="1.5" stroke-linejoin="round" stroke-linecap="round" opacity="1"/>
<path d="M38.70,415.00 C39.02,414.88 39.97,414.30 40.60,414.30 C41.23,414.30 41.88,414.10 42.50,415.00 C43.12,415.90 43.77,417.70 44.30,419.70 C44.83,421.70 45.22,424.10 45.70,427.00 C46.18,429.90 46.72,433.95 47.20,437.10 C47.68,440.25 48.10,442.97 48.60,445.90 C49.10,448.83 49.57,450.78 50.20,454.70 C50.83,458.62 51.53,464.75 52.40,469.40 C53.27,474.05 54.28,479.42 55.40,482.60 C56.52,485.78 57.52,487.15 59.10,488.50 C60.68,489.85 62.70,490.70 64.90,490.70 C67.10,490.70 69.85,489.35 72.30,488.50 C74.75,487.65 77.40,486.08 79.60,485.60 C81.80,485.12 83.53,484.87 85.50,485.60 C87.47,486.33 89.82,488.52 91.40,490.00 C92.98,491.48 93.57,492.60 95.00,494.50 C96.43,496.40 98.32,499.62 100.00,501.40 C101.68,503.18 103.20,504.25 105.10,505.20 C107.00,506.15 108.88,506.68 111.40,507.10 C113.92,507.52 113.77,507.47 120.20,507.70 C126.63,507.93 134.20,508.23 150.00,508.50 C165.80,508.77 204.17,509.17 215.00,509.30" fill="none" stroke="#7e3c1a" stroke-width="1.6" stroke-linejoin="round" stroke-linecap="round" opacity="1"/>
<line x1="56.0" y1="495.5" x2="70.29" y2="463.52" stroke="#333" stroke-width="0.9"/>
<polygon points="71.60,460.60 71.57,464.09 69.02,462.95" fill="#333"/>
<text x="66.6" y="455.9" font-size="9.4" text-anchor="start" fill="#1a1a1a" stroke="#1a1a1a" stroke-width="0.32" textLength="16.2" lengthAdjust="spacingAndGlyphs">205</text>
<text x="114.7" y="496.4" font-size="9.4" text-anchor="start" fill="#1a1a1a" stroke="#1a1a1a" stroke-width="0.32" textLength="15.5" lengthAdjust="spacingAndGlyphs">290</text>
<text x="137.4" y="499.9" font-size="9.4" text-anchor="start" fill="#1a1a1a" stroke="#1a1a1a" stroke-width="0.32" textLength="15.4" lengthAdjust="spacingAndGlyphs">315</text>
<rect x="30.5" y="6.3" width="187.10" height="139.90" fill="none" stroke="#7a7a7a" stroke-width="1"/>
<line x1="28.3" y1="10.20" x2="30.5" y2="10.20" stroke="#7a7a7a" stroke-width="1"/>
<line x1="28.3" y1="27.20" x2="30.5" y2="27.20" stroke="#7a7a7a" stroke-width="1"/>
<line x1="28.3" y1="44.20" x2="30.5" y2="44.20" stroke="#7a7a7a" stroke-width="1"/>
<line x1="28.3" y1="61.20" x2="30.5" y2="61.20" stroke="#7a7a7a" stroke-width="1"/>
<line x1="28.3" y1="78.20" x2="30.5" y2="78.20" stroke="#7a7a7a" stroke-width="1"/>
<line x1="28.3" y1="95.20" x2="30.5" y2="95.20" stroke="#7a7a7a" stroke-width="1"/>
<line x1="28.3" y1="112.20" x2="30.5" y2="112.20" stroke="#7a7a7a" stroke-width="1"/>
<line x1="28.3" y1="129.20" x2="30.5" y2="129.20" stroke="#7a7a7a" stroke-width="1"/>
<line x1="28.3" y1="146.20" x2="30.5" y2="146.20" stroke="#7a7a7a" stroke-width="1"/>
<line x1="39.41" y1="146.2" x2="39.41" y2="148.2" stroke="#7a7a7a" stroke-width="1"/>
<line x1="50.55" y1="146.2" x2="50.55" y2="148.2" stroke="#7a7a7a" stroke-width="1"/>
<line x1="61.68" y1="146.2" x2="61.68" y2="148.2" stroke="#7a7a7a" stroke-width="1"/>
<line x1="72.82" y1="146.2" x2="72.82" y2="148.2" stroke="#7a7a7a" stroke-width="1"/>
<line x1="83.96" y1="146.2" x2="83.96" y2="148.2" stroke="#7a7a7a" stroke-width="1"/>
<line x1="95.09" y1="146.2" x2="95.09" y2="148.2" stroke="#7a7a7a" stroke-width="1"/>
<line x1="106.23" y1="146.2" x2="106.23" y2="148.2" stroke="#7a7a7a" stroke-width="1"/>
<line x1="117.37" y1="146.2" x2="117.37" y2="148.2" stroke="#7a7a7a" stroke-width="1"/>
<line x1="128.50" y1="146.2" x2="128.50" y2="148.2" stroke="#7a7a7a" stroke-width="1"/>
<line x1="139.64" y1="146.2" x2="139.64" y2="148.2" stroke="#7a7a7a" stroke-width="1"/>
<line x1="150.78" y1="146.2" x2="150.78" y2="148.2" stroke="#7a7a7a" stroke-width="1"/>
<line x1="161.92" y1="146.2" x2="161.92" y2="148.2" stroke="#7a7a7a" stroke-width="1"/>
<line x1="173.05" y1="146.2" x2="173.05" y2="148.2" stroke="#7a7a7a" stroke-width="1"/>
<line x1="184.19" y1="146.2" x2="184.19" y2="148.2" stroke="#7a7a7a" stroke-width="1"/>
<line x1="195.33" y1="146.2" x2="195.33" y2="148.2" stroke="#7a7a7a" stroke-width="1"/>
<line x1="206.46" y1="146.2" x2="206.46" y2="148.2" stroke="#7a7a7a" stroke-width="1"/>
<line x1="217.60" y1="146.2" x2="217.60" y2="148.2" stroke="#7a7a7a" stroke-width="1"/>
<text x="39.41" y="158.0" font-size="9.3" text-anchor="middle" fill="#1a1a1a" stroke="#1a1a1a" stroke-width="0.32" textLength="15.6" lengthAdjust="spacingAndGlyphs">200</text>
<text x="61.68" y="158.0" font-size="9.3" text-anchor="middle" fill="#1a1a1a" stroke="#1a1a1a" stroke-width="0.32" textLength="15.6" lengthAdjust="spacingAndGlyphs">225</text>
<text x="83.96" y="158.0" font-size="9.3" text-anchor="middle" fill="#1a1a1a" stroke="#1a1a1a" stroke-width="0.32" textLength="15.6" lengthAdjust="spacingAndGlyphs">250</text>
<text x="106.23" y="158.0" font-size="9.3" text-anchor="middle" fill="#1a1a1a" stroke="#1a1a1a" stroke-width="0.32" textLength="15.6" lengthAdjust="spacingAndGlyphs">275</text>
<text x="128.50" y="158.0" font-size="9.3" text-anchor="middle" fill="#1a1a1a" stroke="#1a1a1a" stroke-width="0.32" textLength="15.6" lengthAdjust="spacingAndGlyphs">300</text>
<text x="150.78" y="158.0" font-size="9.3" text-anchor="middle" fill="#1a1a1a" stroke="#1a1a1a" stroke-width="0.32" textLength="15.6" lengthAdjust="spacingAndGlyphs">325</text>
<text x="173.05" y="158.0" font-size="9.3" text-anchor="middle" fill="#1a1a1a" stroke="#1a1a1a" stroke-width="0.32" textLength="15.6" lengthAdjust="spacingAndGlyphs">350</text>
<text x="195.33" y="158.0" font-size="9.3" text-anchor="middle" fill="#1a1a1a" stroke="#1a1a1a" stroke-width="0.32" textLength="15.6" lengthAdjust="spacingAndGlyphs">375</text>
<text x="217.60" y="158.0" font-size="9.3" text-anchor="middle" fill="#1a1a1a" stroke="#1a1a1a" stroke-width="0.32" textLength="15.6" lengthAdjust="spacingAndGlyphs">400</text>
<text x="81.1" y="175.4" font-size="11.7" text-anchor="start" fill="#1a1a1a" stroke="#1a1a1a" stroke-width="0.32" textLength="81.8" lengthAdjust="spacingAndGlyphs">Wavelength/nm</text>
<text transform="translate(14.4,100.6) rotate(-90)" x="-0.5" y="0" font-size="11.7" fill="#1a1a1a" stroke="#1a1a1a" stroke-width="0.32" textLength="62.6" lengthAdjust="spacingAndGlyphs">Absorbance</text>
<text x="165.7" y="23.4" font-size="11.8" text-anchor="start" fill="#1a1a1a" stroke="#1a1a1a" stroke-width="0.32" textLength="49.5" lengthAdjust="spacingAndGlyphs">Comm_A</text>
<line x1="56.9" y1="14.3" x2="56.9" y2="32.3" stroke="#8a8a8a" stroke-width="1.6"/>
<text x="60.5" y="26.6" font-size="9.3" text-anchor="start" fill="#1a1a1a" stroke="#1a1a1a" stroke-width="0.32" textLength="30.3" lengthAdjust="spacingAndGlyphs">0.2 a.u.</text>
<rect x="275.5" y="5.9" width="188.10" height="140.30" fill="none" stroke="#7a7a7a" stroke-width="1"/>
<line x1="273.3" y1="10.10" x2="275.5" y2="10.10" stroke="#7a7a7a" stroke-width="1"/>
<line x1="273.3" y1="27.11" x2="275.5" y2="27.11" stroke="#7a7a7a" stroke-width="1"/>
<line x1="273.3" y1="44.12" x2="275.5" y2="44.12" stroke="#7a7a7a" stroke-width="1"/>
<line x1="273.3" y1="61.14" x2="275.5" y2="61.14" stroke="#7a7a7a" stroke-width="1"/>
<line x1="273.3" y1="78.15" x2="275.5" y2="78.15" stroke="#7a7a7a" stroke-width="1"/>
<line x1="273.3" y1="95.16" x2="275.5" y2="95.16" stroke="#7a7a7a" stroke-width="1"/>
<line x1="273.3" y1="112.17" x2="275.5" y2="112.17" stroke="#7a7a7a" stroke-width="1"/>
<line x1="273.3" y1="129.19" x2="275.5" y2="129.19" stroke="#7a7a7a" stroke-width="1"/>
<line x1="273.3" y1="146.20" x2="275.5" y2="146.20" stroke="#7a7a7a" stroke-width="1"/>
<line x1="284.46" y1="146.2" x2="284.46" y2="148.2" stroke="#7a7a7a" stroke-width="1"/>
<line x1="295.65" y1="146.2" x2="295.65" y2="148.2" stroke="#7a7a7a" stroke-width="1"/>
<line x1="306.85" y1="146.2" x2="306.85" y2="148.2" stroke="#7a7a7a" stroke-width="1"/>
<line x1="318.05" y1="146.2" x2="318.05" y2="148.2" stroke="#7a7a7a" stroke-width="1"/>
<line x1="329.24" y1="146.2" x2="329.24" y2="148.2" stroke="#7a7a7a" stroke-width="1"/>
<line x1="340.44" y1="146.2" x2="340.44" y2="148.2" stroke="#7a7a7a" stroke-width="1"/>
<line x1="351.64" y1="146.2" x2="351.64" y2="148.2" stroke="#7a7a7a" stroke-width="1"/>
<line x1="362.83" y1="146.2" x2="362.83" y2="148.2" stroke="#7a7a7a" stroke-width="1"/>
<line x1="374.03" y1="146.2" x2="374.03" y2="148.2" stroke="#7a7a7a" stroke-width="1"/>
<line x1="385.23" y1="146.2" x2="385.23" y2="148.2" stroke="#7a7a7a" stroke-width="1"/>
<line x1="396.42" y1="146.2" x2="396.42" y2="148.2" stroke="#7a7a7a" stroke-width="1"/>
<line x1="407.62" y1="146.2" x2="407.62" y2="148.2" stroke="#7a7a7a" stroke-width="1"/>
<line x1="418.81" y1="146.2" x2="418.81" y2="148.2" stroke="#7a7a7a" stroke-width="1"/>
<line x1="430.01" y1="146.2" x2="430.01" y2="148.2" stroke="#7a7a7a" stroke-width="1"/>
<line x1="441.21" y1="146.2" x2="441.21" y2="148.2" stroke="#7a7a7a" stroke-width="1"/>
<line x1="452.40" y1="146.2" x2="452.40" y2="148.2" stroke="#7a7a7a" stroke-width="1"/>
<line x1="463.60" y1="146.2" x2="463.60" y2="148.2" stroke="#7a7a7a" stroke-width="1"/>
<text x="284.46" y="158.0" font-size="9.9" text-anchor="middle" fill="#1a1a1a" stroke="#1a1a1a" stroke-width="0.32" textLength="16.0" lengthAdjust="spacingAndGlyphs">200</text>
<text x="306.85" y="158.0" font-size="9.9" text-anchor="middle" fill="#1a1a1a" stroke="#1a1a1a" stroke-width="0.32" textLength="16.0" lengthAdjust="spacingAndGlyphs">225</text>
<text x="329.24" y="158.0" font-size="9.9" text-anchor="middle" fill="#1a1a1a" stroke="#1a1a1a" stroke-width="0.32" textLength="16.0" lengthAdjust="spacingAndGlyphs">250</text>
<text x="351.64" y="158.0" font-size="9.9" text-anchor="middle" fill="#1a1a1a" stroke="#1a1a1a" stroke-width="0.32" textLength="16.0" lengthAdjust="spacingAndGlyphs">275</text>
<text x="374.03" y="158.0" font-size="9.9" text-anchor="middle" fill="#1a1a1a" stroke="#1a1a1a" stroke-width="0.32" textLength="16.0" lengthAdjust="spacingAndGlyphs">300</text>
<text x="396.42" y="158.0" font-size="9.9" text-anchor="middle" fill="#1a1a1a" stroke="#1a1a1a" stroke-width="0.32" textLength="16.0" lengthAdjust="spacingAndGlyphs">325</text>
<text x="418.81" y="158.0" font-size="9.9" text-anchor="middle" fill="#1a1a1a" stroke="#1a1a1a" stroke-width="0.32" textLength="16.0" lengthAdjust="spacingAndGlyphs">350</text>
<text x="441.21" y="158.0" font-size="9.9" text-anchor="middle" fill="#1a1a1a" stroke="#1a1a1a" stroke-width="0.32" textLength="16.0" lengthAdjust="spacingAndGlyphs">375</text>
<text x="463.60" y="158.0" font-size="9.9" text-anchor="middle" fill="#1a1a1a" stroke="#1a1a1a" stroke-width="0.32" textLength="16.0" lengthAdjust="spacingAndGlyphs">400</text>
<text x="327.7" y="175.2" font-size="11.7" text-anchor="start" fill="#1a1a1a" stroke="#1a1a1a" stroke-width="0.32" textLength="83.0" lengthAdjust="spacingAndGlyphs">Wavelength/nm</text>
<text transform="translate(260.6,105.0) rotate(-90)" x="-0.5" y="0" font-size="11.7" fill="#1a1a1a" stroke="#1a1a1a" stroke-width="0.32" textLength="62.9" lengthAdjust="spacingAndGlyphs">Absorbance</text>
<text x="406.5" y="21.9" font-size="11.8" text-anchor="start" fill="#1a1a1a" stroke="#1a1a1a" stroke-width="0.32" textLength="50.0" lengthAdjust="spacingAndGlyphs">Comm_R</text>
<line x1="309.5" y1="15.7" x2="309.5" y2="34.6" stroke="#444" stroke-width="1.3"/>
<text x="315.5" y="27.4" font-size="9.3" text-anchor="start" fill="#1a1a1a" stroke="#1a1a1a" stroke-width="0.32" textLength="29.6" lengthAdjust="spacingAndGlyphs">0.2 a.u.</text>
<rect x="34.8" y="188.5" width="176.70" height="142.80" fill="none" stroke="#7a7a7a" stroke-width="1"/>
<line x1="32.599999999999994" y1="192.60" x2="34.8" y2="192.60" stroke="#7a7a7a" stroke-width="1"/>
<line x1="32.599999999999994" y1="209.94" x2="34.8" y2="209.94" stroke="#7a7a7a" stroke-width="1"/>
<line x1="32.599999999999994" y1="227.28" x2="34.8" y2="227.28" stroke="#7a7a7a" stroke-width="1"/>
<line x1="32.599999999999994" y1="244.61" x2="34.8" y2="244.61" stroke="#7a7a7a" stroke-width="1"/>
<line x1="32.599999999999994" y1="261.95" x2="34.8" y2="261.95" stroke="#7a7a7a" stroke-width="1"/>
<line x1="32.599999999999994" y1="279.29" x2="34.8" y2="279.29" stroke="#7a7a7a" stroke-width="1"/>
<line x1="32.599999999999994" y1="296.62" x2="34.8" y2="296.62" stroke="#7a7a7a" stroke-width="1"/>
<line x1="32.599999999999994" y1="313.96" x2="34.8" y2="313.96" stroke="#7a7a7a" stroke-width="1"/>
<line x1="32.599999999999994" y1="331.30" x2="34.8" y2="331.30" stroke="#7a7a7a" stroke-width="1"/>
<line x1="43.21" y1="331.3" x2="43.21" y2="333.3" stroke="#7a7a7a" stroke-width="1"/>
<line x1="53.73" y1="331.3" x2="53.73" y2="333.3" stroke="#7a7a7a" stroke-width="1"/>
<line x1="64.25" y1="331.3" x2="64.25" y2="333.3" stroke="#7a7a7a" stroke-width="1"/>
<line x1="74.77" y1="331.3" x2="74.77" y2="333.3" stroke="#7a7a7a" stroke-width="1"/>
<line x1="85.29" y1="331.3" x2="85.29" y2="333.3" stroke="#7a7a7a" stroke-width="1"/>
<line x1="95.80" y1="331.3" x2="95.80" y2="333.3" stroke="#7a7a7a" stroke-width="1"/>
<line x1="106.32" y1="331.3" x2="106.32" y2="333.3" stroke="#7a7a7a" stroke-width="1"/>
<line x1="116.84" y1="331.3" x2="116.84" y2="333.3" stroke="#7a7a7a" stroke-width="1"/>
<line x1="127.36" y1="331.3" x2="127.36" y2="333.3" stroke="#7a7a7a" stroke-width="1"/>
<line x1="137.88" y1="331.3" x2="137.88" y2="333.3" stroke="#7a7a7a" stroke-width="1"/>
<line x1="148.39" y1="331.3" x2="148.39" y2="333.3" stroke="#7a7a7a" stroke-width="1"/>
<line x1="158.91" y1="331.3" x2="158.91" y2="333.3" stroke="#7a7a7a" stroke-width="1"/>
<line x1="169.43" y1="331.3" x2="169.43" y2="333.3" stroke="#7a7a7a" stroke-width="1"/>
<line x1="179.95" y1="331.3" x2="179.95" y2="333.3" stroke="#7a7a7a" stroke-width="1"/>
<line x1="190.46" y1="331.3" x2="190.46" y2="333.3" stroke="#7a7a7a" stroke-width="1"/>
<line x1="200.98" y1="331.3" x2="200.98" y2="333.3" stroke="#7a7a7a" stroke-width="1"/>
<line x1="211.50" y1="331.3" x2="211.50" y2="333.3" stroke="#7a7a7a" stroke-width="1"/>
<text x="43.21" y="343.1" font-size="9.3" text-anchor="middle" fill="#1a1a1a" stroke="#1a1a1a" stroke-width="0.32" textLength="15.9" lengthAdjust="spacingAndGlyphs">200</text>
<text x="64.25" y="343.1" font-size="9.3" text-anchor="middle" fill="#1a1a1a" stroke="#1a1a1a" stroke-width="0.32" textLength="15.9" lengthAdjust="spacingAndGlyphs">225</text>
<text x="85.29" y="343.1" font-size="9.3" text-anchor="middle" fill="#1a1a1a" stroke="#1a1a1a" stroke-width="0.32" textLength="15.9" lengthAdjust="spacingAndGlyphs">250</text>
<text x="106.32" y="343.1" font-size="9.3" text-anchor="middle" fill="#1a1a1a" stroke="#1a1a1a" stroke-width="0.32" textLength="15.9" lengthAdjust="spacingAndGlyphs">275</text>
<text x="127.36" y="343.1" font-size="9.3" text-anchor="middle" fill="#1a1a1a" stroke="#1a1a1a" stroke-width="0.32" textLength="15.9" lengthAdjust="spacingAndGlyphs">300</text>
<text x="148.39" y="343.1" font-size="9.3" text-anchor="middle" fill="#1a1a1a" stroke="#1a1a1a" stroke-width="0.32" textLength="15.9" lengthAdjust="spacingAndGlyphs">325</text>
<text x="169.43" y="343.1" font-size="9.3" text-anchor="middle" fill="#1a1a1a" stroke="#1a1a1a" stroke-width="0.32" textLength="15.9" lengthAdjust="spacingAndGlyphs">350</text>
<text x="190.46" y="343.1" font-size="9.3" text-anchor="middle" fill="#1a1a1a" stroke="#1a1a1a" stroke-width="0.32" textLength="15.9" lengthAdjust="spacingAndGlyphs">375</text>
<text x="211.50" y="343.1" font-size="9.3" text-anchor="middle" fill="#1a1a1a" stroke="#1a1a1a" stroke-width="0.32" textLength="15.9" lengthAdjust="spacingAndGlyphs">400</text>
<text x="80.9" y="360.7" font-size="11.7" text-anchor="start" fill="#1a1a1a" stroke="#1a1a1a" stroke-width="0.32" textLength="84.0" lengthAdjust="spacingAndGlyphs">Wavelength/nm</text>
<text transform="translate(21.6,293.5) rotate(-90)" x="-0.5" y="0" font-size="11.7" fill="#1a1a1a" stroke="#1a1a1a" stroke-width="0.32" textLength="63.6" lengthAdjust="spacingAndGlyphs">Absorbance</text>
<text x="156.10000000000002" y="203.9" font-size="11.8" text-anchor="start" fill="#1a1a1a" stroke="#1a1a1a" stroke-width="0.32" textLength="50.7" lengthAdjust="spacingAndGlyphs">Comm_B</text>
<line x1="61.1" y1="194.9" x2="61.1" y2="212.0" stroke="#444" stroke-width="1.3"/>
<text x="66.7" y="207.9" font-size="9.3" text-anchor="start" fill="#1a1a1a" stroke="#1a1a1a" stroke-width="0.32" textLength="30.5" lengthAdjust="spacingAndGlyphs">0.2 a.u.</text>
<rect x="276.4" y="188.5" width="186.90" height="141.40" fill="none" stroke="#7a7a7a" stroke-width="1"/>
<line x1="274.2" y1="192.40" x2="276.4" y2="192.40" stroke="#7a7a7a" stroke-width="1"/>
<line x1="274.2" y1="209.59" x2="276.4" y2="209.59" stroke="#7a7a7a" stroke-width="1"/>
<line x1="274.2" y1="226.78" x2="276.4" y2="226.78" stroke="#7a7a7a" stroke-width="1"/>
<line x1="274.2" y1="243.96" x2="276.4" y2="243.96" stroke="#7a7a7a" stroke-width="1"/>
<line x1="274.2" y1="261.15" x2="276.4" y2="261.15" stroke="#7a7a7a" stroke-width="1"/>
<line x1="274.2" y1="278.34" x2="276.4" y2="278.34" stroke="#7a7a7a" stroke-width="1"/>
<line x1="274.2" y1="295.52" x2="276.4" y2="295.52" stroke="#7a7a7a" stroke-width="1"/>
<line x1="274.2" y1="312.71" x2="276.4" y2="312.71" stroke="#7a7a7a" stroke-width="1"/>
<line x1="274.2" y1="329.90" x2="276.4" y2="329.90" stroke="#7a7a7a" stroke-width="1"/>
<line x1="285.30" y1="329.9" x2="285.30" y2="331.9" stroke="#7a7a7a" stroke-width="1"/>
<line x1="296.42" y1="329.9" x2="296.42" y2="331.9" stroke="#7a7a7a" stroke-width="1"/>
<line x1="307.55" y1="329.9" x2="307.55" y2="331.9" stroke="#7a7a7a" stroke-width="1"/>
<line x1="318.67" y1="329.9" x2="318.67" y2="331.9" stroke="#7a7a7a" stroke-width="1"/>
<line x1="329.80" y1="329.9" x2="329.80" y2="331.9" stroke="#7a7a7a" stroke-width="1"/>
<line x1="340.92" y1="329.9" x2="340.92" y2="331.9" stroke="#7a7a7a" stroke-width="1"/>
<line x1="352.05" y1="329.9" x2="352.05" y2="331.9" stroke="#7a7a7a" stroke-width="1"/>
<line x1="363.18" y1="329.9" x2="363.18" y2="331.9" stroke="#7a7a7a" stroke-width="1"/>
<line x1="374.30" y1="329.9" x2="374.30" y2="331.9" stroke="#7a7a7a" stroke-width="1"/>
<line x1="385.43" y1="329.9" x2="385.43" y2="331.9" stroke="#7a7a7a" stroke-width="1"/>
<line x1="396.55" y1="329.9" x2="396.55" y2="331.9" stroke="#7a7a7a" stroke-width="1"/>
<line x1="407.67" y1="329.9" x2="407.67" y2="331.9" stroke="#7a7a7a" stroke-width="1"/>
<line x1="418.80" y1="329.9" x2="418.80" y2="331.9" stroke="#7a7a7a" stroke-width="1"/>
<line x1="429.93" y1="329.9" x2="429.93" y2="331.9" stroke="#7a7a7a" stroke-width="1"/>
<line x1="441.05" y1="329.9" x2="441.05" y2="331.9" stroke="#7a7a7a" stroke-width="1"/>
<line x1="452.18" y1="329.9" x2="452.18" y2="331.9" stroke="#7a7a7a" stroke-width="1"/>
<line x1="463.30" y1="329.9" x2="463.30" y2="331.9" stroke="#7a7a7a" stroke-width="1"/>
<text x="285.30" y="342.3" font-size="9.6" text-anchor="middle" fill="#1a1a1a" stroke="#1a1a1a" stroke-width="0.32" textLength="16.9" lengthAdjust="spacingAndGlyphs">200</text>
<text x="307.55" y="342.3" font-size="9.6" text-anchor="middle" fill="#1a1a1a" stroke="#1a1a1a" stroke-width="0.32" textLength="16.9" lengthAdjust="spacingAndGlyphs">225</text>
<text x="329.80" y="342.3" font-size="9.6" text-anchor="middle" fill="#1a1a1a" stroke="#1a1a1a" stroke-width="0.32" textLength="16.9" lengthAdjust="spacingAndGlyphs">250</text>
<text x="352.05" y="342.3" font-size="9.6" text-anchor="middle" fill="#1a1a1a" stroke="#1a1a1a" stroke-width="0.32" textLength="16.9" lengthAdjust="spacingAndGlyphs">275</text>
<text x="374.30" y="342.3" font-size="9.6" text-anchor="middle" fill="#1a1a1a" stroke="#1a1a1a" stroke-width="0.32" textLength="16.9" lengthAdjust="spacingAndGlyphs">300</text>
<text x="396.55" y="342.3" font-size="9.6" text-anchor="middle" fill="#1a1a1a" stroke="#1a1a1a" stroke-width="0.32" textLength="16.9" lengthAdjust="spacingAndGlyphs">325</text>
<text x="418.80" y="342.3" font-size="9.6" text-anchor="middle" fill="#1a1a1a" stroke="#1a1a1a" stroke-width="0.32" textLength="16.9" lengthAdjust="spacingAndGlyphs">350</text>
<text x="441.05" y="342.3" font-size="9.6" text-anchor="middle" fill="#1a1a1a" stroke="#1a1a1a" stroke-width="0.32" textLength="16.9" lengthAdjust="spacingAndGlyphs">375</text>
<text x="463.30" y="342.3" font-size="9.6" text-anchor="middle" fill="#1a1a1a" stroke="#1a1a1a" stroke-width="0.32" textLength="16.9" lengthAdjust="spacingAndGlyphs">400</text>
<text x="325.4" y="358.9" font-size="11.9" text-anchor="start" fill="#1a1a1a" stroke="#1a1a1a" stroke-width="0.32" textLength="89.2" lengthAdjust="spacingAndGlyphs">Wavelength/nm</text>
<text transform="translate(262.0,287.0) rotate(-90)" x="-0.5" y="0" font-size="11.7" fill="#1a1a1a" stroke="#1a1a1a" stroke-width="0.32" textLength="64.4" lengthAdjust="spacingAndGlyphs">Absorbance</text>
<text x="432.5" y="203.6" font-size="11.8" text-anchor="start" fill="#1a1a1a" stroke="#1a1a1a" stroke-width="0.32" textLength="22.2" lengthAdjust="spacingAndGlyphs">P25</text>
<line x1="311.6" y1="194.9" x2="311.6" y2="213.2" stroke="#444" stroke-width="1.3"/>
<text x="316.7" y="206.3" font-size="9.3" text-anchor="start" fill="#1a1a1a" stroke="#1a1a1a" stroke-width="0.32" textLength="32.1" lengthAdjust="spacingAndGlyphs">0.2 a.u.</text>
<rect x="38.7" y="378.5" width="176.80" height="136.00" fill="none" stroke="#7a7a7a" stroke-width="1"/>
<line x1="36.5" y1="382.70" x2="38.7" y2="382.70" stroke="#7a7a7a" stroke-width="1"/>
<line x1="36.5" y1="399.18" x2="38.7" y2="399.18" stroke="#7a7a7a" stroke-width="1"/>
<line x1="36.5" y1="415.65" x2="38.7" y2="415.65" stroke="#7a7a7a" stroke-width="1"/>
<line x1="36.5" y1="432.12" x2="38.7" y2="432.12" stroke="#7a7a7a" stroke-width="1"/>
<line x1="36.5" y1="448.60" x2="38.7" y2="448.60" stroke="#7a7a7a" stroke-width="1"/>
<line x1="36.5" y1="465.07" x2="38.7" y2="465.07" stroke="#7a7a7a" stroke-width="1"/>
<line x1="36.5" y1="481.55" x2="38.7" y2="481.55" stroke="#7a7a7a" stroke-width="1"/>
<line x1="36.5" y1="498.02" x2="38.7" y2="498.02" stroke="#7a7a7a" stroke-width="1"/>
<line x1="36.5" y1="514.50" x2="38.7" y2="514.50" stroke="#7a7a7a" stroke-width="1"/>
<line x1="47.12" y1="514.5" x2="47.12" y2="516.5" stroke="#7a7a7a" stroke-width="1"/>
<line x1="57.64" y1="514.5" x2="57.64" y2="516.5" stroke="#7a7a7a" stroke-width="1"/>
<line x1="68.17" y1="514.5" x2="68.17" y2="516.5" stroke="#7a7a7a" stroke-width="1"/>
<line x1="78.69" y1="514.5" x2="78.69" y2="516.5" stroke="#7a7a7a" stroke-width="1"/>
<line x1="89.21" y1="514.5" x2="89.21" y2="516.5" stroke="#7a7a7a" stroke-width="1"/>
<line x1="99.74" y1="514.5" x2="99.74" y2="516.5" stroke="#7a7a7a" stroke-width="1"/>
<line x1="110.26" y1="514.5" x2="110.26" y2="516.5" stroke="#7a7a7a" stroke-width="1"/>
<line x1="120.79" y1="514.5" x2="120.79" y2="516.5" stroke="#7a7a7a" stroke-width="1"/>
<line x1="131.31" y1="514.5" x2="131.31" y2="516.5" stroke="#7a7a7a" stroke-width="1"/>
<line x1="141.83" y1="514.5" x2="141.83" y2="516.5" stroke="#7a7a7a" stroke-width="1"/>
<line x1="152.36" y1="514.5" x2="152.36" y2="516.5" stroke="#7a7a7a" stroke-width="1"/>
<line x1="162.88" y1="514.5" x2="162.88" y2="516.5" stroke="#7a7a7a" stroke-width="1"/>
<line x1="173.40" y1="514.5" x2="173.40" y2="516.5" stroke="#7a7a7a" stroke-width="1"/>
<line x1="183.93" y1="514.5" x2="183.93" y2="516.5" stroke="#7a7a7a" stroke-width="1"/>
<line x1="194.45" y1="514.5" x2="194.45" y2="516.5" stroke="#7a7a7a" stroke-width="1"/>
<line x1="204.98" y1="514.5" x2="204.98" y2="516.5" stroke="#7a7a7a" stroke-width="1"/>
<line x1="215.50" y1="514.5" x2="215.50" y2="516.5" stroke="#7a7a7a" stroke-width="1"/>
<text x="47.12" y="526.8" font-size="9.0" text-anchor="middle" fill="#1a1a1a" stroke="#1a1a1a" stroke-width="0.32" textLength="15.6" lengthAdjust="spacingAndGlyphs">200</text>
<text x="68.17" y="526.8" font-size="9.0" text-anchor="middle" fill="#1a1a1a" stroke="#1a1a1a" stroke-width="0.32" textLength="15.6" lengthAdjust="spacingAndGlyphs">225</text>
<text x="89.21" y="526.8" font-size="9.0" text-anchor="middle" fill="#1a1a1a" stroke="#1a1a1a" stroke-width="0.32" textLength="15.6" lengthAdjust="spacingAndGlyphs">250</text>
<text x="110.26" y="526.8" font-size="9.0" text-anchor="middle" fill="#1a1a1a" stroke="#1a1a1a" stroke-width="0.32" textLength="15.6" lengthAdjust="spacingAndGlyphs">275</text>
<text x="131.31" y="526.8" font-size="9.0" text-anchor="middle" fill="#1a1a1a" stroke="#1a1a1a" stroke-width="0.32" textLength="15.6" lengthAdjust="spacingAndGlyphs">300</text>
<text x="152.36" y="526.8" font-size="9.0" text-anchor="middle" fill="#1a1a1a" stroke="#1a1a1a" stroke-width="0.32" textLength="15.6" lengthAdjust="spacingAndGlyphs">325</text>
<text x="173.40" y="526.8" font-size="9.0" text-anchor="middle" fill="#1a1a1a" stroke="#1a1a1a" stroke-width="0.32" textLength="15.6" lengthAdjust="spacingAndGlyphs">350</text>
<text x="194.45" y="526.8" font-size="9.0" text-anchor="middle" fill="#1a1a1a" stroke="#1a1a1a" stroke-width="0.32" textLength="15.6" lengthAdjust="spacingAndGlyphs">375</text>
<text x="215.50" y="526.8" font-size="9.0" text-anchor="middle" fill="#1a1a1a" stroke="#1a1a1a" stroke-width="0.32" textLength="15.6" lengthAdjust="spacingAndGlyphs">400</text>
<text x="84.7" y="543.1" font-size="11.7" text-anchor="start" fill="#1a1a1a" stroke="#1a1a1a" stroke-width="0.32" textLength="84.6" lengthAdjust="spacingAndGlyphs">Wavelength/nm</text>
<text transform="translate(22.6,470.6) rotate(-90)" x="-0.5" y="0" font-size="11.7" fill="#1a1a1a" stroke="#1a1a1a" stroke-width="0.32" textLength="62.1" lengthAdjust="spacingAndGlyphs">Absorbance</text>
<text x="175.7" y="391.1" font-size="11.8" text-anchor="start" fill="#1a1a1a" stroke="#1a1a1a" stroke-width="0.32" textLength="34.8" lengthAdjust="spacingAndGlyphs">Lab_A</text>
<line x1="54.9" y1="399.3" x2="54.9" y2="415.3" stroke="#444" stroke-width="1.3"/>
<text x="57.7" y="410.1" font-size="8.8" text-anchor="start" fill="#1a1a1a" stroke="#1a1a1a" stroke-width="0.32" textLength="31.400000000000002" lengthAdjust="spacingAndGlyphs">0.2 a.u.</text>
<rect x="298" y="392.8" width="139.4" height="91.9" fill="none" stroke="#8e8e8e" stroke-width="1.3"/>
<line x1="303.9" y1="401.4" x2="329.6" y2="401.4" stroke="#444" stroke-width="1.5" stroke-dasharray="3.8,3.5"/>
<text x="336.8" y="405.79999999999995" font-size="12" text-anchor="start" fill="#1a1a1a" stroke="#1a1a1a" stroke-width="0.32" textLength="96.3" lengthAdjust="spacingAndGlyphs">Paracetamol sol.</text>
<line x1="303.8" y1="417.1" x2="334.4" y2="417.1" stroke="#7e3c1a" stroke-width="1.6"/>
<text x="337.0" y="421.1" font-size="12" text-anchor="start" fill="#1a1a1a" stroke="#1a1a1a" stroke-width="0.32" textLength="47.6" lengthAdjust="spacingAndGlyphs">after 1 h</text>
<line x1="303.8" y1="432.5" x2="334.4" y2="432.5" stroke="#a99c30" stroke-width="1.6"/>
<text x="337.0" y="436.5" font-size="12" text-anchor="start" fill="#1a1a1a" stroke="#1a1a1a" stroke-width="0.32" textLength="47.6" lengthAdjust="spacingAndGlyphs">after 2 h</text>
<line x1="303.8" y1="447.8" x2="334.4" y2="447.8" stroke="#7248c0" stroke-width="1.6"/>
<text x="337.0" y="451.8" font-size="12" text-anchor="start" fill="#1a1a1a" stroke="#1a1a1a" stroke-width="0.32" textLength="47.6" lengthAdjust="spacingAndGlyphs">after 3 h</text>
<line x1="303.8" y1="463.2" x2="334.4" y2="463.2" stroke="#78b0e2" stroke-width="1.6"/>
<text x="337.0" y="467.2" font-size="12" text-anchor="start" fill="#1a1a1a" stroke="#1a1a1a" stroke-width="0.32" textLength="47.6" lengthAdjust="spacingAndGlyphs">after 4 h</text>
<line x1="303.8" y1="478.5" x2="334.4" y2="478.5" stroke="#1c10a8" stroke-width="1.6"/>
<text x="337.0" y="482.5" font-size="12" text-anchor="start" fill="#1a1a1a" stroke="#1a1a1a" stroke-width="0.32" textLength="47.6" lengthAdjust="spacingAndGlyphs">after 5 h</text>
</svg></body></html>
